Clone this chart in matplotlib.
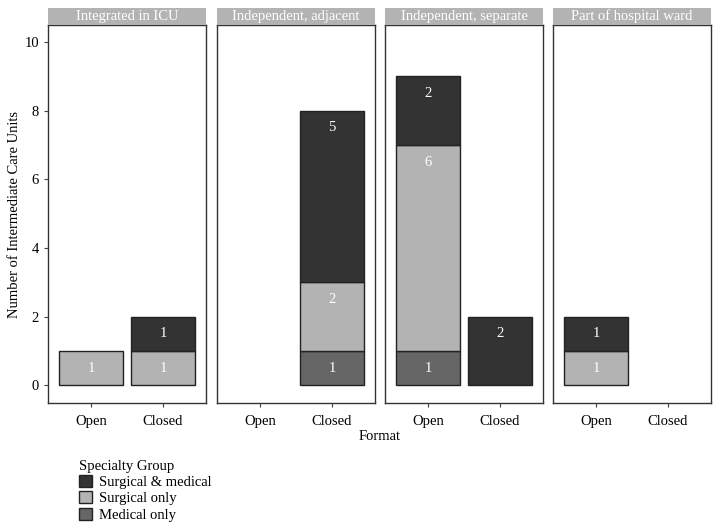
import matplotlib
matplotlib.use("Agg")
import matplotlib.pyplot as plt
from matplotlib.patches import Patch, Rectangle

plt.rcParams['font.family'] = ['Liberation Serif', 'DejaVu Serif']

facets = ["Integrated in ICU", "Independent, adjacent", "Independent, separate", "Part of hospital ward"]
formats = ["Open", "Closed"]
# counts per facet: [Open, Closed]
medical_only = [[0, 0], [0, 1], [1, 0], [0, 0]]
surgical_only = [[1, 1], [0, 2], [6, 0], [1, 0]]
surg_medical = [[0, 1], [0, 5], [2, 2], [1, 0]]

groups = ["Medical only", "Surgical only", "Surgical & medical"]
colors = {"Medical only": "#666666", "Surgical only": "#b3b3b3", "Surgical & medical": "#333333"}
series = {"Medical only": medical_only, "Surgical only": surgical_only, "Surgical & medical": surg_medical}

W, H = 720, 529
fig = plt.figure(figsize=(W / 100, H / 100), dpi=100)

left_px = [48, 217, 385, 553]
pw = 158
top_px, bot_px = 25, 403
strip_top = 8

for i, name in enumerate(facets):
    ax = fig.add_axes([left_px[i] / W, (H - bot_px) / H, pw / W, (bot_px - top_px) / H])
    bottoms = [0, 0]
    for g in groups:
        vals = series[g][i]
        for j, v in enumerate(vals):
            if v == 0:
                continue
            ax.bar(j + 1, v, bottom=bottoms[j], width=0.9, color=colors[g],
                   edgecolor="#222222", linewidth=1.0)
            top = bottoms[j] + v
            ax.text(j + 1, top - 0.5, str(v), ha="center", va="center",
                    color="white", fontsize=10.5)
            bottoms[j] = top
    ax.set_xlim(0.4, 2.6)
    ax.set_ylim(-0.52, 10.5)
    ax.set_xticks([1, 2])
    ax.set_xticklabels(formats, fontsize=10.5, va="baseline")
    ax.set_yticks([0, 2, 4, 6, 8, 10])
    if i == 0:
        ax.tick_params(axis="y", labelsize=10.5, length=3, color="#444444")
    else:
        ax.tick_params(axis="y", left=False, labelleft=False)
    ax.tick_params(axis="x", length=3, color="#444444", pad=13)
    for s in ax.spines.values():
        s.set_color("#333333")
        s.set_linewidth(1.0)

    # strip
    fig.patches.append(Rectangle((left_px[i] / W, (H - top_px) / H), pw / W,
                                 (top_px - strip_top) / H, transform=fig.transFigure,
                                 facecolor="#b3b3b3", edgecolor="none"))
    fig.text((left_px[i] + pw / 2) / W, (H - (top_px + strip_top) / 2) / H, name,
             ha="center", va="center", color="white", fontsize=10.5)

fig.text(15 / W, (H - (top_px + bot_px) / 2) / H, "Number of Intermediate Care Units",
         rotation=90, ha="center", va="center", fontsize=10.5)
fig.text(380 / W, (H - 437) / H, "Format", ha="center", va="center", fontsize=10.5)

handles = [Patch(facecolor=colors[g], edgecolor="#222222", label=g) for g in reversed(groups)]
leg = fig.legend(handles=handles, title="Specialty Group", loc="upper left",
                 bbox_to_anchor=(76 / W, (H - 457) / H), frameon=False, fontsize=10.5,
                 title_fontsize=10.5, handlelength=0.9, handleheight=0.9,
                 handletextpad=0.5, labelspacing=0.15, borderaxespad=0,
                 borderpad=0.2)
leg._legend_box.align = "left"

fig.savefig("out.png", dpi=100)
